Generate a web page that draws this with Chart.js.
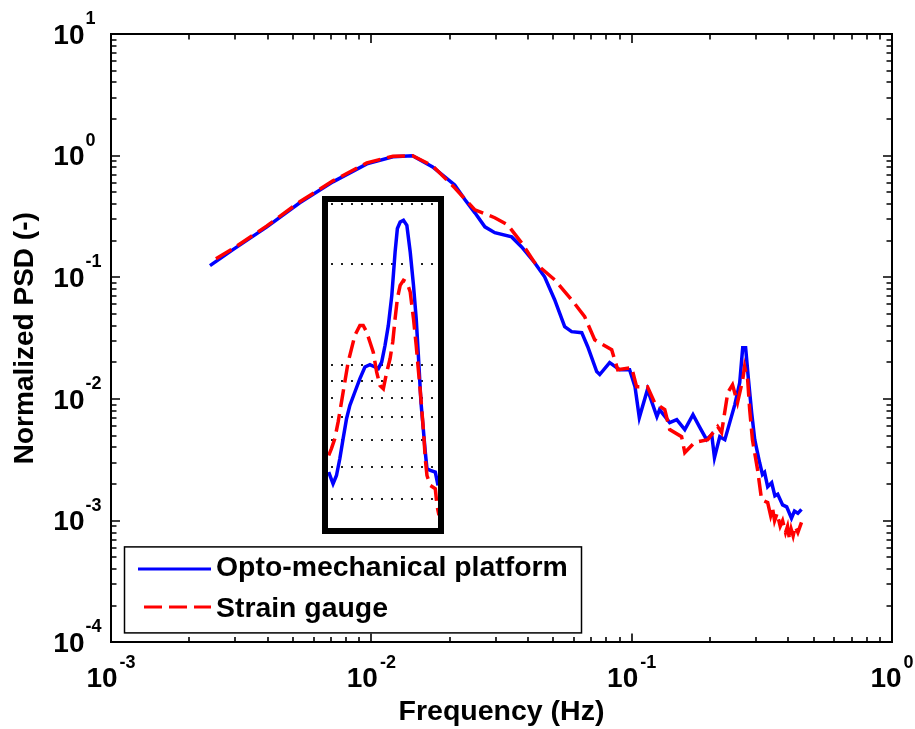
<!DOCTYPE html>
<html>
<head>
<meta charset="utf-8">
<script src="https://cdn.jsdelivr.net/npm/chart.js@4.4.1/dist/chart.umd.min.js"></script>
<style>
  html, body { margin: 0; padding: 0; background: #fff; }
  #wrap { position: relative; width: 915px; height: 729px; }
  #main { position: absolute; left: 0; top: 0; }
  #insetBox { position: absolute; left: 322px; top: 196px; width: 110px; height: 326px;
              border: 6px solid #000; background: #fff; }
  #inset { display: block; }
</style>
</head>
<body>
<div id="wrap">
  <canvas id="main" width="915" height="729"></canvas>
  <div id="insetBox"><canvas id="inset" width="110" height="326"></canvas></div>
</div>
<script>
// ---------------- data ----------------
const seriesLabels = ['Opto-mechanical platform', 'Strain gauge'];

// Opto-mechanical platform (blue, solid)
const blueFreq = [0.00240,0.00294,0.00397,0.00531,0.00712,0.00961,0.0121,0.0144,0.0172,0.0209,
  0.0229,0.0250,0.0273,0.0298,0.0346,0.0378,0.0424,0.0463,0.0506,0.0553,
  0.0588,0.0643,0.0678,0.0734,0.0754,0.0823,0.0899,0.0982,0.103,0.107,
  0.115,0.125,0.128,0.140,0.149,0.160,0.172,0.182,0.194,0.203,
  0.208,0.218,0.228,0.238,0.249,0.260,0.267,0.274,0.281,0.289,
  0.297,0.310,0.318,0.324,0.333,0.345,0.355,0.364,0.380,0.394,
  0.411,0.422,0.435,0.449];
const bluePsd = [0.125,0.169,0.260,0.410,0.609,0.856,0.978,1.0,0.809,0.576,
  0.434,0.339,0.260,0.233,0.215,0.178,0.132,0.101,0.0655,0.0393,
  0.0358,0.0351,0.0269,0.0168,0.0159,0.0199,0.0174,0.0174,0.0126,0.00704,
  0.0120,0.00717,0.00819,0.00640,0.00678,0.00561,0.00744,0.00594,0.00464,0.00510,
  0.00330,0.00491,0.00464,0.00640,0.00900,0.0136,0.0264,0.0264,0.0144,0.00773,
  0.00464,0.00301,0.00240,0.00250,0.00190,0.00205,0.00160,0.00165,0.00135,0.00130,
  0.00105,0.00120,0.00115,0.00124];

// Strain gauge (red, dashed)
const redFreq = [0.00253,0.00294,0.00397,0.00531,0.00712,0.00961,0.0121,0.0144,0.0172,0.0209,
  0.0250,0.0298,0.0334,0.0378,0.0424,0.0506,0.0588,0.0660,0.0721,0.0838,
  0.0884,0.100,0.1045,0.115,0.1225,0.134,0.140,0.1555,0.160,0.1745,
  0.196,0.214,0.2215,0.234,0.244,0.255,0.267,0.2715,0.279,0.284,
  0.291,0.3045,0.3155,0.333,0.342,0.348,0.354,0.362,0.372,0.380,
  0.390,0.397,0.404,0.410,0.417,0.425,0.435,0.449];
const redPsd = [0.142,0.172,0.265,0.418,0.621,0.873,0.99,1.0,0.825,0.544,
  0.359,0.309,0.270,0.192,0.132,0.0956,0.0655,0.0475,0.0307,0.0254,
  0.0174,0.0181,0.0126,0.0126,0.00934,0.00819,0.00561,0.00491,0.00363,0.00439,
  0.00464,0.00594,0.00530,0.0113,0.0131,0.00934,0.0144,0.0185,0.0144,0.00819,
  0.00464,0.00263,0.00149,0.00141,0.00110,0.00125,0.00100,0.00115,0.00090,0.00100,
  0.00080,0.00090,0.00070,0.00085,0.00075,0.00090,0.00080,0.00097];

// Inset (zoom on the 0.007-0.018 Hz peak, unlabeled axes)
const insetBlueFreq = [0.006867,0.007135,0.007353,0.007571,0.007794,0.008033,0.008271,0.008645,0.009035,0.009441,
  0.009867,0.01031,0.01062,0.01094,0.01127,0.01160,0.01196,0.01231,0.01256,0.01287,
  0.01325,0.01365,0.01406,0.01447,0.01482,0.01513,0.01545,0.01573,0.01605,0.01629,
  0.01678,0.01753,0.01795];
const insetBluePsd = [4.82,4.45,4.71,5.28,6.05,6.94,7.60,8.33,9.13,9.88,
  10.04,9.88,9.77,10.22,11.46,13.13,16.12,21.67,25.44,26.60,
  26.92,26.01,21.67,17.26,13.75,10.47,7.78,6.63,5.53,4.93,
  4.88,4.82,4.40];
const insetRedFreq = [0.006867,0.007034,0.007244,0.007459,0.007685,0.007913,0.008147,0.008395,0.008645,0.009035,
  0.009300,0.009585,0.009867,0.01016,0.01047,0.01078,0.01110,0.01144,0.01178,0.01206,
  0.01231,0.01256,0.01287,0.01325,0.01365,0.01406,0.01447,0.01482,0.01513,0.01545,
  0.01581,0.01605,0.01629,0.01678,0.01753,0.01779,0.01810];
const insetRedPsd = [5.40,5.66,6.05,6.78,7.78,8.92,10.22,11.20,12.27,13.13,
  13.13,12.55,11.72,10.94,9.54,8.71,8.52,9.54,10.47,11.72,
  13.75,15.76,17.26,17.86,17.65,16.49,13.75,11.46,9.54,7.96,
  6.34,5.28,4.71,4.40,4.30,3.84,3.59];
const insetGridValues = [4,5,6,7,8,9,10,20,30];

// axis ranges / tick labels (powers of ten)
const xTickExps = [-3,-2,-1,0];
const yTickExps = [-4,-3,-2,-1,0,1];
const insetXRange = [0.006825, 0.01795];
const insetYRange = [3.29, 30.5];

// ---------------- styling ----------------
const FONT = '"Liberation Sans", Arial, Helvetica, sans-serif';
const BLUE = '#0000ff', RED = '#ff0000';
const DASH = [18, 7];

function pts(xs, ys) { return xs.map((v, i) => ({ x: v, y: ys[i] })); }

// axes box, inward ticks on four sides, 10^n labels, legend
const decorPlugin = {
  id: 'decor',
  afterDraw(chart) {
    const { ctx, chartArea: a, scales: { x, y } } = chart;
    ctx.save();
    ctx.strokeStyle = '#000';
    ctx.lineWidth = 1.6;
    ctx.beginPath();
    for (let i = 0; i < xTickExps.length; i++) {
      const e = xTickExps[i];
      const kMax = i < xTickExps.length - 1 ? 9 : 1;
      for (let k = 1; k <= kMax; k++) {
        const px = Math.round(x.getPixelForValue(k * Math.pow(10, e)));
        const len = k === 1 ? 9 : 5.5;
        ctx.moveTo(px, a.bottom); ctx.lineTo(px, a.bottom - len);
        ctx.moveTo(px, a.top); ctx.lineTo(px, a.top + len);
      }
    }
    for (let i = 0; i < yTickExps.length; i++) {
      const e = yTickExps[i];
      const kMax = i < yTickExps.length - 1 ? 9 : 1;
      for (let k = 1; k <= kMax; k++) {
        const py = Math.round(y.getPixelForValue(k * Math.pow(10, e)));
        const len = k === 1 ? 9 : 5.5;
        ctx.moveTo(a.left, py); ctx.lineTo(a.left + len, py);
        ctx.moveTo(a.right, py); ctx.lineTo(a.right - len, py);
      }
    }
    ctx.stroke();
    ctx.lineWidth = 2;
    ctx.strokeRect(Math.round(a.left), Math.round(a.top), Math.round(a.right - a.left), Math.round(a.bottom - a.top));

    // tick labels
    ctx.fillStyle = '#000';
    ctx.textBaseline = 'alphabetic';
    const baseFont = 'bold 28px ' + FONT, expFont = 'bold 18px ' + FONT;
    xTickExps.forEach(e => {
      const px = x.getPixelForValue(Math.pow(10, e));
      ctx.font = baseFont; const wb = ctx.measureText('10').width;
      ctx.font = expFont; const we = ctx.measureText(String(e)).width;
      const start = px - (wb + 2 + we) / 2;
      ctx.textAlign = 'left';
      ctx.font = baseFont; ctx.fillText('10', start, a.bottom + 45);
      ctx.font = expFont; ctx.fillText(String(e), start + wb + 2, a.bottom + 25.5);
    });
    yTickExps.forEach(e => {
      const py = y.getPixelForValue(Math.pow(10, e));
      ctx.font = baseFont; ctx.textAlign = 'right';
      ctx.fillText('10', a.left - 26.5, py + 9.5);
      ctx.font = expFont; ctx.textAlign = 'left';
      ctx.fillText(String(e), a.left - 25.5, py - 10);
    });

    // legend
    const L = a.left + 13, T = a.bottom - 96, R = a.left + 470, B = a.bottom - 10;
    ctx.fillStyle = '#fff';
    ctx.fillRect(L, T, R - L, B - T);
    ctx.strokeStyle = '#000'; ctx.lineWidth = 1.5;
    ctx.strokeRect(L + 0.5, T + 0.5, R - L, B - T);
    const rows = [T + 22.5, T + 60.5];
    const textRows = [T + 22, T + 63];
    ctx.font = 'bold 28.4px ' + FONT;
    chart.data.datasets.forEach((ds, i) => {
      ctx.strokeStyle = ds.borderColor; ctx.lineWidth = 3;
      ctx.setLineDash(ds.borderDash || []);
      ctx.beginPath();
      ctx.moveTo(ds.borderDash ? L + 20 : L + 14, rows[i]);
      ctx.lineTo(L + 87, rows[i]);
      ctx.stroke();
      ctx.setLineDash([]);
      ctx.fillStyle = '#000';
      ctx.textAlign = 'left'; ctx.textBaseline = 'middle';
      ctx.fillText(ds.label, L + 92, textRows[i]);
    });
    ctx.restore();
  }
};

new Chart(document.getElementById('main'), {
  type: 'line',
  data: {
    datasets: [
      { label: seriesLabels[0], data: pts(blueFreq, bluePsd), borderColor: BLUE, borderWidth: 3.5,
        pointRadius: 0, fill: false, tension: 0, order: 1 },
      { label: seriesLabels[1], data: pts(redFreq, redPsd), borderColor: RED, borderWidth: 3.5,
        borderDash: DASH, pointRadius: 0, fill: false, tension: 0, order: 0 }
    ]
  },
  options: {
    responsive: false,
    animation: false,
    events: [],
    layout: { autoPadding: false, padding: { top: 34, right: 23, left: 0, bottom: 0 } },
    plugins: { legend: { display: false }, tooltip: { enabled: false } },
    scales: {
      x: {
        type: 'logarithmic', min: Math.pow(10, xTickExps[0]), max: Math.pow(10, xTickExps[xTickExps.length - 1]),
        ticks: { display: false }, grid: { display: false, drawTicks: false }, border: { display: false },
        title: { display: true, text: 'Frequency (Hz)', color: '#000',
                 font: { family: FONT, size: 28.5, weight: 'bold' }, padding: { top: 52.4, bottom: 0 } }
      },
      y: {
        type: 'logarithmic', min: Math.pow(10, yTickExps[0]), max: Math.pow(10, yTickExps[yTickExps.length - 1]),
        ticks: { display: false }, grid: { display: false, drawTicks: false }, border: { display: false },
        title: { display: true, text: 'Normalized PSD (-)', color: '#000',
                 font: { family: FONT, size: 28, weight: 'bold' }, padding: { top: 8.5, bottom: 68.9 } }
      }
    }
  },
  plugins: [decorPlugin]
});

// ---------------- inset ----------------
new Chart(document.getElementById('inset'), {
  type: 'line',
  data: {
    datasets: [
      { label: seriesLabels[0], data: pts(insetBlueFreq, insetBluePsd), borderColor: BLUE, borderWidth: 3.5,
        pointRadius: 0, fill: false, tension: 0, order: 1 },
      { label: seriesLabels[1], data: pts(insetRedFreq, insetRedPsd), borderColor: RED, borderWidth: 3.5,
        borderDash: DASH, pointRadius: 0, fill: false, tension: 0, order: 0 }
    ]
  },
  options: {
    responsive: false,
    animation: false,
    events: [],
    layout: { autoPadding: false, padding: 0 },
    plugins: { legend: { display: false }, tooltip: { enabled: false } },
    scales: {
      x: { type: 'logarithmic', min: insetXRange[0], max: insetXRange[1], display: false },
      y: {
        type: 'logarithmic', min: insetYRange[0], max: insetYRange[1],
        ticks: { display: false },
        grid: { display: true, drawTicks: false, color: '#222', lineWidth: 2 },
        border: { display: false, dash: [2, 8], dashOffset: -3 },
        afterBuildTicks: (s) => { s.ticks = insetGridValues.map(v => ({ value: v })); }
      }
    }
  }
});
</script>
</body>
</html>
